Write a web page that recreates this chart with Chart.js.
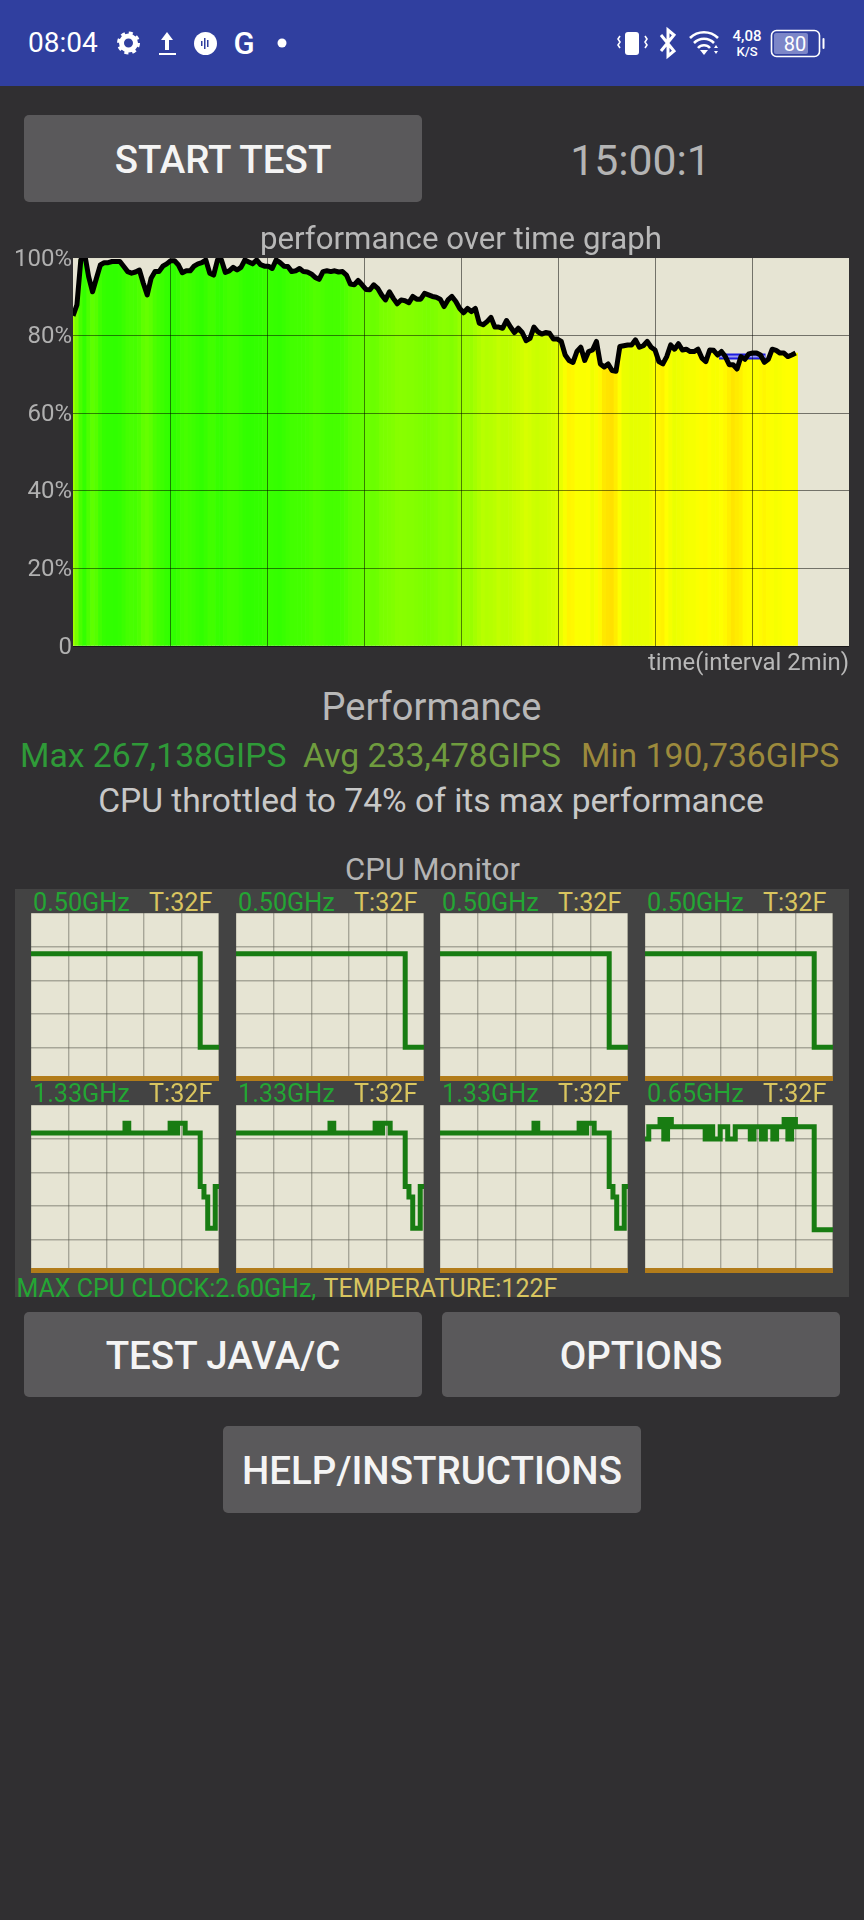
<!DOCTYPE html>
<html>
<head>
<meta charset="utf-8">
<title>CPU Throttling Test</title>
<script src="https://cdn.jsdelivr.net/npm/chart.js@4"></script>
<style>
html, body { margin: 0; padding: 0; background: #302f31; }
body { position: relative; width: 864px; height: 1920px; overflow: hidden; font-family: Roboto, sans-serif; }
.box { position: absolute; }
.t { position: absolute; white-space: nowrap; transform: translateY(-50%); line-height: 1; }
.c { transform: translate(-50%, -50%); }
.btn { position: absolute; background: #5a595b; border-radius: 5px; }
.btn-t { color: #f4f4f4; font-weight: 500; font-size: 38.5px; }
canvas { position: absolute; display: block; }
.green { color: #24a634; }
.gold { color: #d9c55f; }
</style>
</head>
<body>
<div class="box" style="left:0;top:0;width:864px;height:86px;background:#303f9f"></div>
<svg class="box" style="left:0;top:0" width="864" height="86" fill="#fff">
  <circle cx="128.5" cy="43" r="7" fill="none" stroke="#fff" stroke-width="5"/>
  <circle cx="128.5" cy="43" r="10" fill="none" stroke="#fff" stroke-width="3" stroke-dasharray="4 3.85"/>
  <path d="M167 32l-6 8h4v10h4v-10h4z"/><rect x="159" y="53" width="17" height="2"/>
  <circle cx="205.5" cy="43.5" r="11.5"/>
  <rect x="201" y="41" width="1.5" height="5" fill="#303f9f"/><rect x="204" y="38" width="1.5" height="11" fill="#303f9f"/><rect x="207" y="40" width="1.5" height="7" fill="#303f9f"/>
  <circle cx="282" cy="43" r="4.5"/>
  <rect x="625" y="32" width="14" height="23" rx="3"/>
  <path d="M620 36l-2 3 2 3-2 3 2 3M645 36l2 3-2 3 2 3-2 3" fill="none" stroke="#fff" stroke-width="1.6"/>
  <path d="M661 35l13 16-6 5V30l6 5-13 16" fill="none" stroke="#fff" stroke-width="3"/>
  <path d="M690 38a20 20 0 0 1 28 0M694 43a14 14 0 0 1 20 0M698 48a8 8 0 0 1 12 0" fill="none" stroke="#fff" stroke-width="2.6"/>
  <path d="M700 50h8l-4 5z"/><path d="M714 48l2-3 2 3zM714 51l2 3 2-3z"/>
  <rect x="771.5" y="30.5" width="48" height="26" rx="5" fill="none" stroke="#fff" stroke-width="1.6"/>
  <rect x="774" y="33" width="34" height="21" rx="2" fill="#7c86c8"/>
  <rect x="822.5" y="38" width="2" height="11" rx="1"/>
</svg>
<div class="t" style="left:28px;top:43px;font-size:28px;color:#fff">08:04</div>
<div class="t c" style="left:244px;top:43px;font-size:31px;font-weight:500;color:#fff">G</div>
<div class="t c" style="left:747px;top:36px;font-size:15px;color:#fff;font-weight:500">4,08</div>
<div class="t c" style="left:747px;top:51px;font-size:13px;color:#fff;font-weight:500">K/S</div>
<div class="t c" style="left:795px;top:44px;font-size:20px;color:#fff">80</div>

<div class="btn" style="left:24px;top:115px;width:398px;height:87px"></div>
<div class="t c btn-t" style="left:223px;top:160px">START TEST</div>
<div class="t c" style="left:640.5px;top:160px;font-size:42.7px;color:#b4b4b4">15:00:1</div>

<canvas id="perfChart" style="left:0;top:220px"></canvas>

<div class="t c" style="left:431.5px;top:707px;font-size:38px;color:#b8b8b8">Performance</div>
<div class="t" style="left:20px;top:756px;font-size:33.7px;color:#2f9a38">Max 267,138GIPS</div>
<div class="t" style="left:303px;top:756px;font-size:33.7px;color:#6f9c3e">Avg 233,478GIPS</div>
<div class="t" style="left:581px;top:756px;font-size:33.7px;color:#9c8a3c">Min 190,736GIPS</div>
<div class="t c" style="left:431px;top:801px;font-size:33.6px;color:#c8c8c8">CPU throttled to 74% of its max performance</div>
<div class="t c" style="left:432.5px;top:869px;font-size:31px;color:#b4b4b4">CPU Monitor</div>

<div class="box" style="left:15px;top:889px;width:834px;height:408px;background:#434343"></div>
<div id="cpuPanel"></div>
<div class="t green" style="left:16.5px;top:1287.5px;font-size:25px">MAX CPU CLOCK:2.60GHz,</div>
<div class="t gold" style="left:323.5px;top:1287.5px;font-size:25px">TEMPERATURE:122F</div>

<div class="btn" style="left:24px;top:1312px;width:398px;height:85px"></div>
<div class="t c btn-t" style="left:223px;top:1356px">TEST JAVA/C</div>
<div class="btn" style="left:442px;top:1312px;width:398px;height:85px"></div>
<div class="t c btn-t" style="left:641px;top:1356px">OPTIONS</div>
<div class="btn" style="left:223px;top:1426px;width:418px;height:87px"></div>
<div class="t c btn-t" style="left:432px;top:1471px">HELP/INSTRUCTIONS</div>

<script>
// performance samples in % left to right
var perfValues = [
  85.1, 87.9, 99.5, 101, 95.2, 91.3, 94.8, 98.2, 98.8, 98.8, 99.1, 99.1, 99.1, 97.8, 96.5, 96.1, 96.4, 96.9,
  93.5, 90.5, 94.8, 96.5, 96.5, 97.9, 98.5, 99.3, 99.3, 98.2, 96.2, 96.7, 96.7, 97.9, 98.5, 98.8, 99.5, 96.1,
  95.6, 99.5, 99.5, 96.3, 96.7, 97.6, 96.9, 97.6, 99.5, 99.0, 98.5, 99.5, 98.3, 97.9, 97.9, 97.3, 99.5, 98.8,
  97.9, 97.8, 96.5, 96.7, 97.3, 96.5, 96.4, 95.9, 95.0, 94.5, 96.5, 96.7, 96.5, 96.7, 96.4, 96.5, 95.6, 93.3,
  93.1, 94.2, 93.1, 91.9, 91.8, 93.1, 92.2, 90.5, 89.2, 91.3, 89.6, 88.2, 89.2, 89.0, 88.5, 90.1, 89.4, 89.4,
  90.9, 90.5, 90.1, 89.9, 89.4, 87.5, 89.2, 90.1, 88.8, 87.0, 85.9, 87.0, 86.2, 87.0, 83.2, 82.8, 83.6, 84.7,
  82.2, 82.2, 81.9, 83.9, 82.2, 80.8, 81.9, 80.8, 78.7, 79.3, 82.2, 81.0, 80.4, 80.8, 80.6, 79.1, 79.1, 78.5,
  75.0, 73.6, 73.1, 75.9, 77.0, 73.6, 75.9, 76.3, 78.5, 72.7, 71.9, 72.7, 71.0, 70.8, 77.2, 77.4, 77.6, 77.6,
  78.9, 77.0, 77.4, 78.5, 77.0, 76.3, 73.3, 72.7, 74.6, 77.6, 76.5, 77.9, 76.3, 76.5, 75.9, 75.9, 76.5, 74.2,
  73.3, 76.3, 76.2, 75.0, 75.9, 74.6, 72.5, 72.5, 71.4, 74.6, 73.9, 75.3, 75.5, 75.5, 75.0, 73.1, 73.9, 76.5,
  76.2, 75.5, 75.5, 74.6, 75.0, 75.5
];
// the samples span the test, which stops just short of 15 minutes on the axis
var perfLastMinute = 14.9;
var perfMinutes = perfValues.map(function (v, i) { return i * perfLastMinute / (perfValues.length - 1); });

// blue marker of the throttled level
var throttleMinutes = [13.32, 14.28];
var throttleValues = [74.6, 74.6];

var perfYTicks = ['0', '20%', '40%', '60%', '80%', '100%'];

// CPU monitor, 50 samples per core in % of the max clock, last value repeated for the right edge
var littleHistory = [
  75.8, 75.8, 75.8, 75.8, 75.8, 75.8, 75.8, 75.8, 75.8, 75.8, 75.8, 75.8, 75.8, 75.8, 75.8, 75.8, 75.8,
  75.8, 75.8, 75.8, 75.8, 75.8, 75.8, 75.8, 75.8, 75.8, 75.8, 75.8, 75.8, 75.8, 75.8, 75.8, 75.8, 75.8,
  75.8, 75.8, 75.8, 75.8, 75.8, 75.8, 75.8, 75.8, 75.8, 75.8, 75.8, 20.1, 20.1, 20.1, 20.1, 20.1, 20.1
];
var bigHistory = [
  83.4, 83.4, 83.4, 83.4, 83.4, 83.4, 83.4, 83.4, 83.4, 83.4, 83.4, 83.4, 83.4, 83.4, 83.4, 83.4, 83.4,
  83.4, 83.4, 83.4, 83.4, 83.4, 83.4, 83.4, 83.4, 89.1, 83.4, 83.4, 83.4, 83.4, 83.4, 83.4, 83.4, 83.4,
  83.4, 83.4, 83.4, 89.1, 83.4, 89.1, 89.1, 83.4, 83.4, 83.4, 83.4, 51.5, 45.2, 26.7, 26.7, 51.5, 51.5
];
var primeHistory = [
  79.8, 87, 87, 87, 91.3, 79.8, 91.3, 87, 87, 87, 87, 87, 87, 87, 87, 87, 79.8,
  87, 79.8, 79.8, 87, 87, 79.8, 79.8, 87, 87, 87, 87, 79.8, 87, 87, 79.8, 87, 87,
  79.8, 87, 87, 91.3, 79.8, 91.3, 87, 87, 87, 87, 87, 25.7, 25.7, 25.7, 25.7, 25.7, 25.7
];
// all temperatures read 32F, which sits on the bottom of the scale
var tempHistory = [0, 0];
var tempSamples = [0, 50];

var cpuFreqLabels = ['0.50GHz', '0.50GHz', '0.50GHz', '0.50GHz', '1.33GHz', '1.33GHz', '1.33GHz', '0.65GHz'];
var cpuTempLabels = ['T:32F', 'T:32F', 'T:32F', 'T:32F', 'T:32F', 'T:32F', 'T:32F', 'T:32F'];
var cpuHistories = [littleHistory, littleHistory, littleHistory, littleHistory, bigHistory, bigHistory, bigHistory, primeHistory];

// green at full speed, through yellow at 75%, towards orange below it
function perfColor(v) {
  if (v >= 75) {
    var r = Math.round(40 + 215 * (100 - Math.min(v, 100)) / 25);
    return 'rgb(' + r + ',255,0)';
  }
  return 'rgb(255,' + Math.round(255 - (75 - v) * 9) + ',0)';
}

// the app blurs its colour strips, so colour from the neighbours too
function stripColor(v, i, all) {
  var a = all[Math.max(i - 1, 0)];
  var b = all[Math.min(i + 1, all.length - 1)];
  return perfColor((a + v + b) / 3);
}

var plotBackground = {
  id: 'plotBackground',
  beforeDraw: function (chart) {
    var a = chart.chartArea;
    chart.ctx.fillStyle = '#e6e4d3';
    chart.ctx.fillRect(a.left, a.top, a.right - a.left, a.bottom - a.top);
  }
};

var perfCanvas = document.getElementById('perfChart');
perfCanvas.width = 864;
perfCanvas.height = 458;

new Chart(perfCanvas, {
  data: {
    labels: perfMinutes,
    datasets: [
      {
        type: 'line',
        data: perfValues,
        borderColor: '#000',
        borderWidth: 5,
        borderJoinStyle: 'round',
        pointRadius: 0,
        tension: 0,
        clip: 0,
        order: 0
      },
      {
        type: 'line',
        data: throttleMinutes.map(function (m, i) { return { x: m, y: throttleValues[i] }; }),
        borderColor: '#9a9af0',
        borderWidth: 2,
        pointRadius: 0,
        order: 1
      },
      {
        type: 'line',
        data: throttleMinutes.map(function (m, i) { return { x: m, y: throttleValues[i] }; }),
        borderColor: '#1c1ce0',
        borderWidth: 6,
        pointRadius: 0,
        order: 2
      },
      {
        type: 'bar',
        data: perfValues,
        backgroundColor: perfValues.map(stripColor),
        borderWidth: 0,
        barPercentage: 1,
        categoryPercentage: 1,
        order: 3
      }
    ]
  },
  options: {
    responsive: false,
    animation: false,
    layout: { padding: { right: 15 } },
    plugins: {
      legend: { display: false },
      tooltip: { enabled: false },
      title: {
        display: true,
        text: 'performance over time graph',
        color: '#b8b8b8',
        fullSize: false,
        font: { family: 'Roboto', size: 31.2, weight: 'normal', lineHeight: 1.1 },
        padding: { top: 3.7, bottom: 0 }
      }
    },
    scales: {
      x: {
        type: 'linear',
        offset: false,
        min: 0,
        max: 16,
        border: { display: false },
        grid: {
          z: 1,
          offset: false,
          drawTicks: false,
          color: function (ctx) {
            return ctx.tick && ctx.tick.value > 0 && ctx.tick.value < 16 ? 'rgba(0,0,0,0.5)' : 'transparent';
          }
        },
        ticks: { stepSize: 2, display: false },
        title: {
          display: true,
          text: 'time(interval 2min)',
          align: 'end',
          color: '#b8b8b8',
          font: { family: 'Roboto', size: 23.9, lineHeight: 1.2 },
          padding: { top: 4.5, bottom: 0 }
        },
        afterFit: function (s) { s.height = 32; }
      },
      y: {
        min: 0,
        max: 100,
        border: { display: false },
        grid: {
          z: 1,
          drawTicks: false,
          color: function (ctx) {
            return ctx.tick && ctx.tick.value < 100 ? 'rgba(0,0,0,0.5)' : 'transparent';
          }
        },
        ticks: {
          stepSize: 20,
          padding: 1,
          labelOffset: 1.5,
          color: '#b0b0b0',
          font: { family: 'Roboto', size: 24 },
          callback: function (v, i) { return perfYTicks[i]; }
        },
        afterFit: function (s) { s.width = 73; }
      }
    }
  },
  plugins: [plotBackground]
});

// CPU monitor grid
var cpuLefts = [31, 236, 440, 645];
var cpuTops = [913, 1105];
var cpuLabelGaps = [10, 11];
var panel = document.getElementById('cpuPanel');

cpuHistories.forEach(function (history, n) {
  var left = cpuLefts[n % 4];
  var row = Math.floor(n / 4);
  var top = cpuTops[row];

  var freq = document.createElement('div');
  freq.className = 't green';
  freq.style.cssText = 'left:' + (left + 2) + 'px;top:' + (top - cpuLabelGaps[row]) + 'px;font-size:25.2px';
  freq.textContent = cpuFreqLabels[n];
  panel.appendChild(freq);

  var temp = document.createElement('div');
  temp.className = 't gold';
  temp.style.cssText = 'left:' + (left + 118) + 'px;top:' + (top - cpuLabelGaps[row]) + 'px;font-size:25.2px';
  temp.textContent = cpuTempLabels[n];
  panel.appendChild(temp);

  var canvas = document.createElement('canvas');
  canvas.width = 188;
  canvas.height = 168;
  canvas.style.cssText = 'left:' + left + 'px;top:' + top + 'px;background:#e6e4d3';
  panel.appendChild(canvas);

  new Chart(canvas, {
    type: 'line',
    data: {
      labels: history.map(function (v, i) { return i; }),
      datasets: [
        {
          data: history,
          borderColor: '#187c12',
          borderWidth: 5,
          stepped: true,
          pointRadius: 0,
          order: 0
        },
        {
          data: tempSamples.map(function (m, i) { return { x: m, y: tempHistory[i] }; }),
          borderColor: '#b27c1a',
          borderWidth: 10,
          pointRadius: 0,
          order: 1
        }
      ]
    },
    options: {
      responsive: false,
      animation: false,
      plugins: { legend: { display: false }, tooltip: { enabled: false } },
      scales: {
        x: {
          type: 'linear',
          min: 0,
          max: 50,
          border: { display: false },
          ticks: { display: false, stepSize: 10 },
          grid: { drawTicks: false, lineWidth: 1.4, color: 'rgba(90,90,80,0.45)' }
        },
        y: {
          min: 0,
          max: 100,
          border: { display: false },
          ticks: { display: false, stepSize: 20 },
          grid: { drawTicks: false, lineWidth: 1.4, color: 'rgba(90,90,80,0.45)' }
        }
      }
    }
  });
});
</script>
</body>
</html>
